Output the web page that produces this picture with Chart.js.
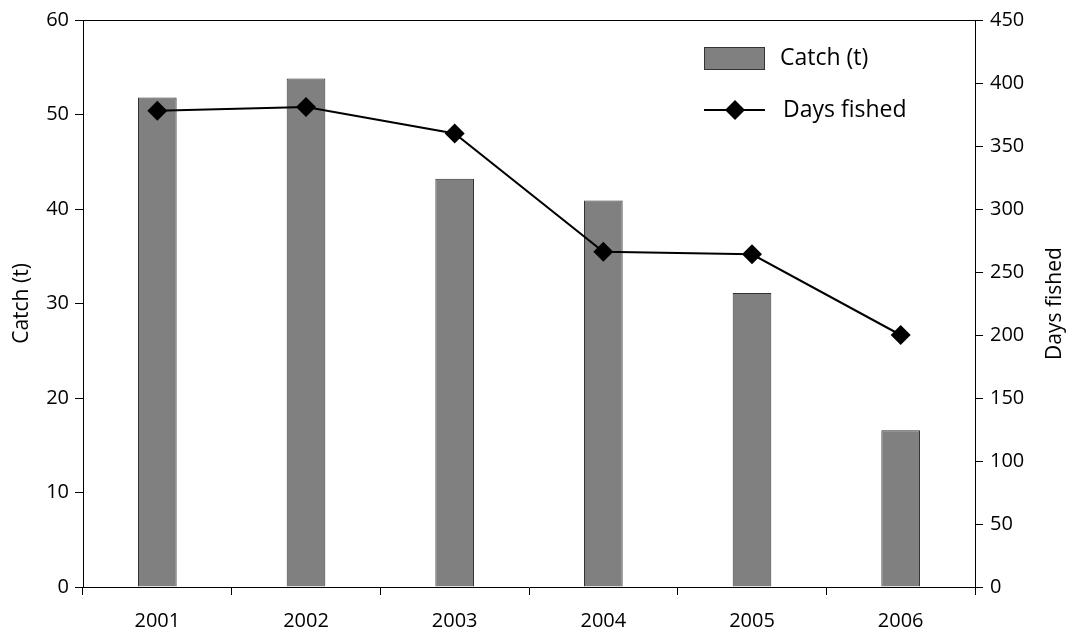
<!DOCTYPE html>
<html>
<head>
<meta charset="utf-8">
<script src="https://cdn.jsdelivr.net/npm/chart.js@4.4.1/dist/chart.umd.min.js"></script>
<style>
  html, body { margin: 0; padding: 0; background: #fff; }
  #wrap { width: 1073px; height: 633px; position: relative; }
</style>
</head>
<body>
<div id="wrap"><canvas id="c"></canvas></div>
<script>
const years = ['2001', '2002', '2003', '2004', '2005', '2006'];
const catchTonnes = [51.8, 53.8, 43.2, 40.9, 31.1, 16.6];
const daysFished = [378, 381, 360, 266, 264, 200];
const catchTicks = [0, 10, 20, 30, 40, 50, 60];
const daysTicks = [0, 50, 100, 150, 200, 250, 300, 350, 400, 450];

const FONT = "'Open Sans', 'DejaVu Sans', sans-serif";
const BAR_FILL = '#808080';
const BAR_EDGE = '#333333';

const frameAndLegend = {
  id: 'frameAndLegend',
  afterDatasetsDraw(chart) {
    const ctx = chart.ctx;
    const a = chart.chartArea;
    ctx.save();
    // top frame line
    ctx.strokeStyle = '#000';
    ctx.lineWidth = 1;
    ctx.beginPath();
    ctx.moveTo(a.left, a.top + 0.5);
    ctx.lineTo(a.right, a.top + 0.5);
    ctx.stroke();

    // legend
    const lx = a.right - 271;
    const ly1 = a.top + 38;
    const ly2 = a.top + 90;
    ctx.fillStyle = BAR_FILL;
    ctx.strokeStyle = BAR_EDGE;
    ctx.fillRect(lx, ly1 - 11, 61, 23);
    ctx.strokeRect(lx + 0.5, ly1 - 11 + 0.5, 60, 22);

    ctx.strokeStyle = '#000';
    ctx.lineWidth = 2;
    ctx.beginPath();
    ctx.moveTo(lx, ly2);
    ctx.lineTo(lx + 61, ly2);
    ctx.stroke();
    ctx.fillStyle = '#000';
    const cx = lx + 31, r = 10;
    ctx.beginPath();
    ctx.moveTo(cx, ly2 - r);
    ctx.lineTo(cx + r, ly2);
    ctx.lineTo(cx, ly2 + r);
    ctx.lineTo(cx - r, ly2);
    ctx.closePath();
    ctx.fill();

    ctx.font = "23px " + FONT;
    ctx.textBaseline = 'middle';
    ctx.textAlign = 'left';
    ctx.fillStyle = '#000';
    ctx.fillText('Catch (t)', lx + 76, ly1);
    ctx.fillText('Days fished', lx + 79, ly2);

    // right axis title, reading bottom-to-top
    ctx.font = "21px " + FONT;
    ctx.textAlign = 'center';
    ctx.textBaseline = 'middle';
    ctx.translate(chart.width - 18, (a.top + a.bottom) / 2);
    ctx.rotate(-Math.PI / 2);
    ctx.fillText('Days fished', 0, 0);
    ctx.restore();
  }
};

new Chart(document.getElementById('c'), {
  data: {
    labels: years,
    datasets: [
      {
        type: 'line',
        label: 'Days fished',
        data: daysFished,
        yAxisID: 'yDays',
        borderColor: '#000',
        borderWidth: 2,
        backgroundColor: '#000',
        pointStyle: 'rectRot',
        pointRadius: 10,
        pointHoverRadius: 10,
        pointBorderWidth: 0,
        tension: 0,
        order: 0
      },
      {
        type: 'bar',
        label: 'Catch (t)',
        data: catchTonnes,
        yAxisID: 'yCatch',
        backgroundColor: BAR_FILL,
        borderColor: BAR_EDGE,
        borderWidth: 1,
        categoryPercentage: 1,
        barPercentage: 0.26,
        order: 1
      }
    ]
  },
  options: {
    responsive: true,
    maintainAspectRatio: false,
    animation: false,
    layout: { padding: { top: 20, left: 0, right: 0, bottom: 0 } },
    plugins: {
      legend: { display: false },
      tooltip: { enabled: false }
    },
    scales: {
      x: {
        type: 'category',
        offset: true,
        grid: {
          offset: true,
          drawOnChartArea: false,
          drawTicks: true,
          tickLength: 8,
          color: '#000'
        },
        border: { color: '#000', width: 1 },
        ticks: {
          color: '#000',
          font: { family: FONT, size: 20 },
          padding: 14,
          maxRotation: 0
        },
        afterFit(s) { s.height = 46; }
      },
      yCatch: {
        type: 'linear',
        position: 'left',
        min: 0,
        max: 60,
        afterBuildTicks(s) { s.ticks = catchTicks.map(v => ({ value: v })); },
        grid: { drawOnChartArea: false, tickLength: 8, color: '#000' },
        border: { color: '#000', width: 1 },
        ticks: {
          color: '#000',
          font: { family: FONT, size: 20 },
          padding: 6
        },
        title: {
          display: true,
          text: 'Catch (t)',
          color: '#000',
          font: { family: FONT, size: 21 },
          padding: { top: 9, bottom: 0 }
        },
        afterFit(s) { s.width = 83; }
      },
      yDays: {
        type: 'linear',
        position: 'right',
        min: 0,
        max: 450,
        afterBuildTicks(s) { s.ticks = daysTicks.map(v => ({ value: v })); },
        grid: { drawOnChartArea: false, tickLength: 8, color: '#000' },
        border: { color: '#000', width: 1 },
        ticks: {
          color: '#000',
          font: { family: FONT, size: 20 },
          padding: 7
        },
        title: { display: false },
        afterFit(s) { s.width = 98; }
      }
    }
  },
  plugins: [frameAndLegend]
});
</script>
</body>
</html>
